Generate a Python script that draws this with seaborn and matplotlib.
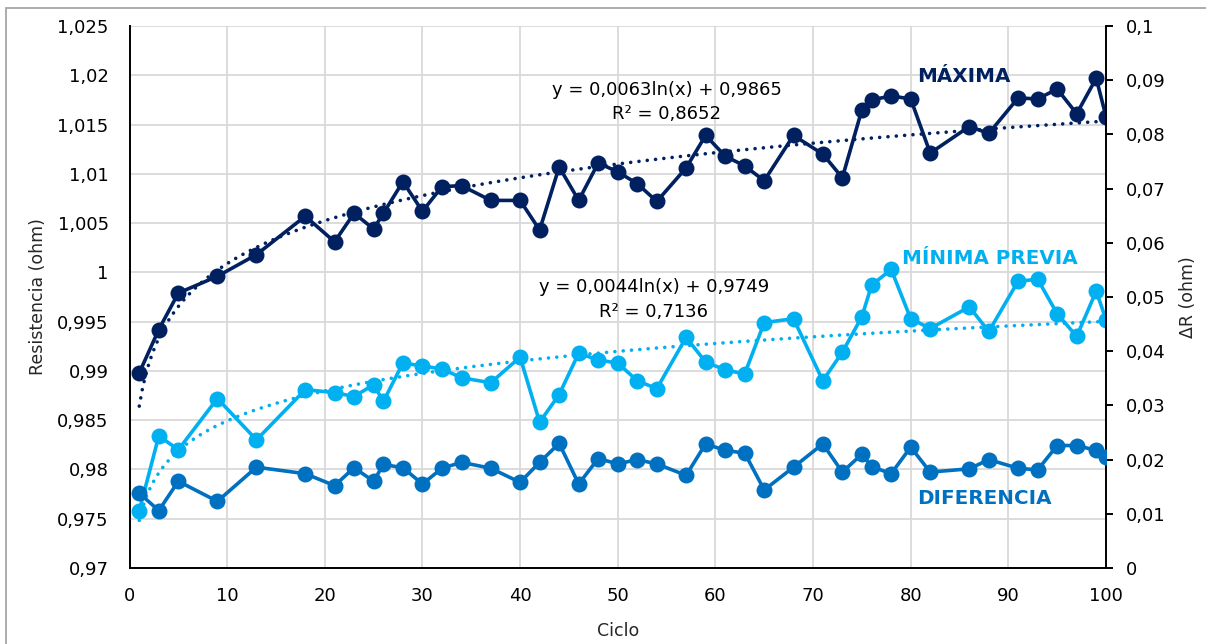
import numpy as np
import pandas as pd
import matplotlib
matplotlib.use("Agg")
import matplotlib.pyplot as plt
from matplotlib.ticker import FuncFormatter, MultipleLocator
from matplotlib.patches import Rectangle
import seaborn as sns

# ---------------- data ----------------
ciclo = [1, 3, 5, 9, 13, 18, 21, 23, 25, 26, 28, 30, 32, 34, 37, 40, 42, 44, 46, 48,
         50, 52, 54, 57, 59, 61, 63, 65, 68, 71, 73, 75, 76, 78, 80, 82, 86, 88, 91, 93,
         95, 97, 99, 100]
maxima = [0.9898, 0.9942, 0.9979, 0.9996, 1.0018, 1.0057, 1.0031, 1.0060, 1.0044, 1.0060,
          1.0092, 1.0062, 1.0087, 1.0088, 1.0073, 1.0073, 1.0043, 1.0107, 1.0073, 1.0111,
          1.0102, 1.0090, 1.0072, 1.0106, 1.0139, 1.0118, 1.0108, 1.0093, 1.0139, 1.0120,
          1.0096, 1.0165, 1.0175, 1.0179, 1.0176, 1.0121, 1.0148, 1.0141, 1.0177, 1.0176,
          1.0186, 1.0161, 1.0197, 1.0158]
minima = [0.9758, 0.9834, 0.9820, 0.9872, 0.9830, 0.9881, 0.9878, 0.9874, 0.9886, 0.9869,
          0.9908, 0.9905, 0.9902, 0.9893, 0.9888, 0.9914, 0.9848, 0.9876, 0.9918, 0.9911,
          0.9908, 0.9890, 0.9882, 0.9934, 0.9909, 0.9901, 0.9897, 0.9949, 0.9953, 0.9890,
          0.9919, 0.9955, 0.9987, 1.0003, 0.9953, 0.9943, 0.9965, 0.9940, 0.9991, 0.9993,
          0.9958, 0.9935, 0.9981, 0.9952]
diferencia = [0.0138, 0.0106, 0.0160, 0.0123, 0.0186, 0.0174, 0.0152, 0.0185, 0.0160, 0.0191,
              0.0185, 0.0155, 0.0184, 0.0195, 0.0184, 0.0158, 0.0195, 0.0230, 0.0155, 0.0202,
              0.0192, 0.0200, 0.0192, 0.0171, 0.0229, 0.0217, 0.0212, 0.0144, 0.0186, 0.0229,
              0.0177, 0.0210, 0.0187, 0.0174, 0.0223, 0.0177, 0.0183, 0.0200, 0.0184, 0.0181,
              0.0226, 0.0226, 0.0217, 0.0205]

eq_max = ["y = 0,0063ln(x) + 0,9865", "R² = 0,8652"]
eq_min = ["y = 0,0044ln(x) + 0,9749", "R² = 0,7136"]
left_ticks = [0.97, 0.975, 0.98, 0.985, 0.99, 0.995, 1.0, 1.005, 1.01, 1.015, 1.02, 1.025]
right_ticks = [0, 0.01, 0.02, 0.03, 0.04, 0.05, 0.06, 0.07, 0.08, 0.09, 0.1]

C_MAX = "#002060"
C_MIN = "#00B0F0"
C_DIF = "#0070C0"

df = pd.DataFrame({"Ciclo": ciclo, "Max": maxima, "Min": minima, "Dif": diferencia})

# log trend fits (as Excel's logarithmic trendline)
xs = np.linspace(min(ciclo), max(ciclo), 300)
a1, b1 = np.polyfit(np.log(df["Ciclo"]), df["Max"], 1)
a2, b2 = np.polyfit(np.log(df["Ciclo"]), df["Min"], 1)
trend = pd.DataFrame({"x": xs, "tmax": a1 * np.log(xs) + b1, "tmin": a2 * np.log(xs) + b2})

# ---------------- figure ----------------
sns.set_style("white")
plt.rcParams["font.family"] = ["DejaVu Sans"]

fig = plt.figure(figsize=(12.06, 6.44), dpi=100)
ax = fig.add_axes([129.5 / 1206, 1 - 568 / 644, (1106 - 129.5) / 1206, (568 - 26) / 644])
ax2 = ax.twinx()

lw = 2.6
ms = 11.5
sns.lineplot(data=df, x="Ciclo", y="Max", ax=ax, color=C_MAX, marker="o", markersize=ms,
             markeredgewidth=0, linewidth=lw, zorder=3)
sns.lineplot(data=df, x="Ciclo", y="Min", ax=ax, color=C_MIN, marker="o", markersize=ms,
             markeredgewidth=0, linewidth=lw, zorder=3)
dot = (0, (0.01, 2.3))
sns.lineplot(data=trend, x="x", y="tmax", ax=ax, color=C_MAX, linewidth=2.6, linestyle=dot,
             zorder=4, dash_capstyle="round")
sns.lineplot(data=trend, x="x", y="tmin", ax=ax, color=C_MIN, linewidth=2.6, linestyle=dot,
             zorder=4, dash_capstyle="round")
sns.lineplot(data=df, x="Ciclo", y="Dif", ax=ax2, color=C_DIF, marker="o", markersize=ms,
             markeredgewidth=0, linewidth=lw, zorder=3)

# axes limits and ticks
ax.set_xlim(0, 100)
ax.set_ylim(0.97, 1.025)
ax2.set_ylim(0, 0.1)
ax.xaxis.set_major_locator(MultipleLocator(10))
ax.set_yticks(left_ticks)
ax2.set_yticks(right_ticks)


def comma_fmt(v, pos=None):
    s = f"{v:.3f}".rstrip("0").rstrip(".")
    return s.replace(".", ",")


ax.yaxis.set_major_formatter(FuncFormatter(comma_fmt))
ax2.yaxis.set_major_formatter(FuncFormatter(comma_fmt))
ax.xaxis.set_major_formatter(FuncFormatter(lambda v, p: f"{int(v)}"))

ax.grid(True, color="#D9D9D9", linewidth=1.3)
ax.set_axisbelow(True)
ax2.grid(False)

for sp in ["top"]:
    ax.spines[sp].set_visible(False)
    ax2.spines[sp].set_visible(False)
ax.spines["right"].set_visible(False)
ax2.spines["left"].set_visible(False)
ax2.spines["bottom"].set_visible(False)
for sp in [ax.spines["left"], ax.spines["bottom"], ax2.spines["right"]]:
    sp.set_color("black")
    sp.set_linewidth(1.4)

ax.tick_params(axis="y", length=0, pad=15, labelsize=13, colors="black")
ax.tick_params(axis="x", length=0, pad=14, labelsize=13, colors="black")
ax2.tick_params(axis="y", length=5, width=1.4, pad=9, labelsize=13, colors="black",
                direction="out")

ax.set_xlabel("Ciclo", fontsize=12.5, labelpad=12)
ax.set_ylabel("Resistencia (ohm)", fontsize=12.5, labelpad=7)
ax2.set_ylabel("ΔR (ohm)", fontsize=12.5, labelpad=10)

# equations
ax.text(55, 1.01853, eq_max[0], ha="center", va="center", fontsize=13, color="black", zorder=6)
ax.text(55, 1.01606, eq_max[1], ha="center", va="center", fontsize=13, color="black", zorder=6)
ax.text(53.7, 0.99853, eq_min[0], ha="center", va="center", fontsize=13, color="black", zorder=6)
ax.text(53.7, 0.99602, eq_min[1], ha="center", va="center", fontsize=13, color="black", zorder=6)

# series labels
ax.text(85.4, 1.01985, "MÁXIMA", ha="center", va="center", fontsize=14.3,
        fontweight="bold", color=C_MAX, zorder=6)
ax.text(88.1, 1.00137, "MÍNIMA PREVIA", ha="center", va="center", fontsize=14.3,
        fontweight="bold", color=C_MIN, zorder=6)
ax.text(87.5, 0.97704, "DIFERENCIA", ha="center", va="center", fontsize=14.3,
        fontweight="bold", color=C_DIF, zorder=6)

# outer chart border
fig.patches.append(Rectangle((6 / 1206, -0.05), 1.1, 1 - 8 / 644 + 0.05,
                             transform=fig.transFigure, fill=False,
                             edgecolor="#A6A6A6", linewidth=1.3))

fig.savefig("out.png", dpi=100)
